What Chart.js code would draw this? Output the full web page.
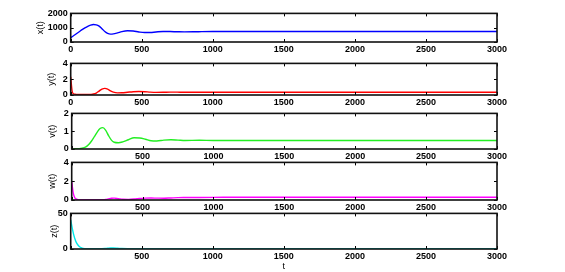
<!DOCTYPE html>
<html>
<head>
<meta charset="utf-8">
<script src="https://cdn.jsdelivr.net/npm/chart.js@4"></script>
<style>
  body { margin: 0; background: #fff; }
  #wrap { position: relative; width: 565px; height: 272px; }
  canvas { position: absolute; left: 0; }
</style>
</head>
<body>
<div id="wrap">
  <canvas id="c1" width="565"></canvas>
  <canvas id="c2" width="565"></canvas>
  <canvas id="c3" width="565"></canvas>
  <canvas id="c4" width="565"></canvas>
  <canvas id="c5" width="565"></canvas>
</div>
<script>
// time samples
const tVals = [0, 10, 20, 30, 40, 60, 80, 100, 120, 140, 160, 180, 200, 220, 240, 260, 280, 300, 330, 360, 400, 440, 480, 520, 560, 600, 650, 700, 750, 800, 900, 1000, 1200, 1500, 2000, 2500, 3000];

const xVals = [300, 370, 440, 510, 580, 720, 860, 990, 1100, 1180, 1220, 1200, 1110, 930, 730, 600, 550, 565, 640, 730, 790, 765, 700, 660, 665, 700, 735, 730, 715, 705, 720, 730, 730, 730, 730, 730, 730];
const yVals = [2.3, 0.5, 0.15, 0.1, 0.08, 0.07, 0.07, 0.07, 0.07, 0.08, 0.12, 0.25, 0.5, 0.74, 0.84, 0.75, 0.52, 0.36, 0.27, 0.28, 0.35, 0.42, 0.45, 0.42, 0.36, 0.33, 0.34, 0.37, 0.36, 0.34, 0.34, 0.34, 0.34, 0.34, 0.34, 0.34, 0.34];
const vVals = [0, 0, 0.01, 0.01, 0.01, 0.03, 0.06, 0.12, 0.25, 0.45, 0.7, 0.95, 1.15, 1.2, 1.05, 0.75, 0.5, 0.38, 0.35, 0.4, 0.52, 0.63, 0.62, 0.55, 0.46, 0.45, 0.5, 0.52, 0.5, 0.48, 0.49, 0.48, 0.48, 0.48, 0.48, 0.48, 0.48];
const wVals = [2.0, 0.8, 0.3, 0.12, 0.06, 0.03, 0.02, 0.02, 0.02, 0.02, 0.02, 0.02, 0.02, 0.03, 0.06, 0.12, 0.18, 0.2, 0.14, 0.08, 0.07, 0.1, 0.16, 0.2, 0.21, 0.2, 0.19, 0.22, 0.25, 0.26, 0.27, 0.28, 0.3, 0.3, 0.3, 0.3, 0.3];
const zVals = [41, 30, 21, 14, 9, 3.5, 1.3, 0.5, 0.3, 0.3, 0.3, 0.3, 0.3, 0.4, 0.6, 1.0, 1.3, 1.3, 1.0, 0.6, 0.4, 0.4, 0.3, 0.3, 0.3, 0.3, 0.3, 0.3, 0.3, 0.3, 0.3, 0.3, 0.3, 0.3, 0.3, 0.3, 0.3];

const yLabels = ['x(t)', 'y(t)', 'v(t)', 'w(t)', 'z(t)'];
const yMaxes = [2000, 4, 2, 4, 50];
const ySteps = [1000, 2, 1, 2, 50];
const colors = ['#0000ff', '#ff0000', '#22ee22', '#ff00ff', '#00e8e8'];

Chart.defaults.font.family = 'Liberation Sans, Arial, sans-serif';
Chart.defaults.font.size = 9;
Chart.defaults.color = '#000';

// box + inward tick marks, matlab style
const frame = {
  id: 'frame',
  afterDraw(chart) {
    const ctx = chart.ctx;
    const a = chart.chartArea;
    const sx = chart.scales.x, sy = chart.scales.y;
    ctx.save();
    ctx.strokeStyle = '#000';
    ctx.lineWidth = 1;
    ctx.beginPath();
    sx.ticks.forEach(tk => {
      const px = Math.round(sx.getPixelForValue(tk.value)) + 0.5;
      ctx.moveTo(px, a.top); ctx.lineTo(px, a.top + 3);
      ctx.moveTo(px, a.bottom); ctx.lineTo(px, a.bottom - 3);
    });
    sy.ticks.forEach(tk => {
      const py = Math.round(sy.getPixelForValue(tk.value)) + 0.5;
      ctx.moveTo(a.left, py); ctx.lineTo(a.left + 3, py);
      ctx.moveTo(a.right, py); ctx.lineTo(a.right - 3, py);
    });
    ctx.stroke();
    ctx.lineWidth = 1.6;
    ctx.strokeStyle = '#111';
    ctx.strokeRect(a.left, a.top, a.right - a.left, a.bottom - a.top);
    ctx.restore();
  }
};

// panel placement
const tops = [11, 61, 111, 160, 211];
const bottoms = [42, 95, 149, 200, 249];
const lefts = [70.7, 70.7, 71.7, 71.7, 70.7];
const titleX = [40, 51, 52, 52, 54];

const series = [xVals, yVals, vVals, wVals, zVals];

function makePanel(i) {
  const last = i === 4;
  const xh = last ? 23 : 14;
  const cv = document.getElementById('c' + (i + 1));
  cv.height = bottoms[i] - tops[i] + 6 + xh;
  cv.style.top = (tops[i] - 6) + 'px';

  const pts = tVals.map((t, k) => ({ x: t, y: series[i][k] }));

  new Chart(cv, {
    type: 'line',
    data: {
      datasets: [{
        data: pts,
        borderColor: colors[i],
        borderWidth: 1.4,
        pointRadius: 0,
        cubicInterpolationMode: 'monotone',
        fill: false
      }]
    },
    options: {
      responsive: false,
      animation: false,
      events: [],
      layout: { padding: { left: 0, top: 6, right: 68, bottom: 0 } },
      plugins: { legend: { display: false }, tooltip: { enabled: false } },
      scales: {
        x: {
          type: 'linear',
          min: 0,
          max: 3000,
          grid: { display: false, drawTicks: false },
          border: { display: false },
          ticks: {
            stepSize: 500,
            padding: 2,
            maxRotation: 0,
            font: { weight: 'bold' },
            callback: v => (v === 0 && i > 1) ? '' : String(v)
          },
          title: { display: last, text: 't', padding: 0 },
          afterFit: s => { s.height = xh; }
        },
        y: {
          min: 0,
          max: yMaxes[i],
          grid: { display: false, drawTicks: false },
          border: { display: false },
          ticks: { stepSize: ySteps[i], padding: 3, font: { weight: 'bold' }, callback: v => String(v) },
          title: { display: true, text: yLabels[i], padding: { top: titleX[i] - 5, bottom: 0 } },
          afterFit: s => { s.width = lefts[i]; }
        }
      }
    },
    plugins: [frame]
  });
}

for (let i = 0; i < 5; i++) makePanel(i);
</script>
</body>
</html>
